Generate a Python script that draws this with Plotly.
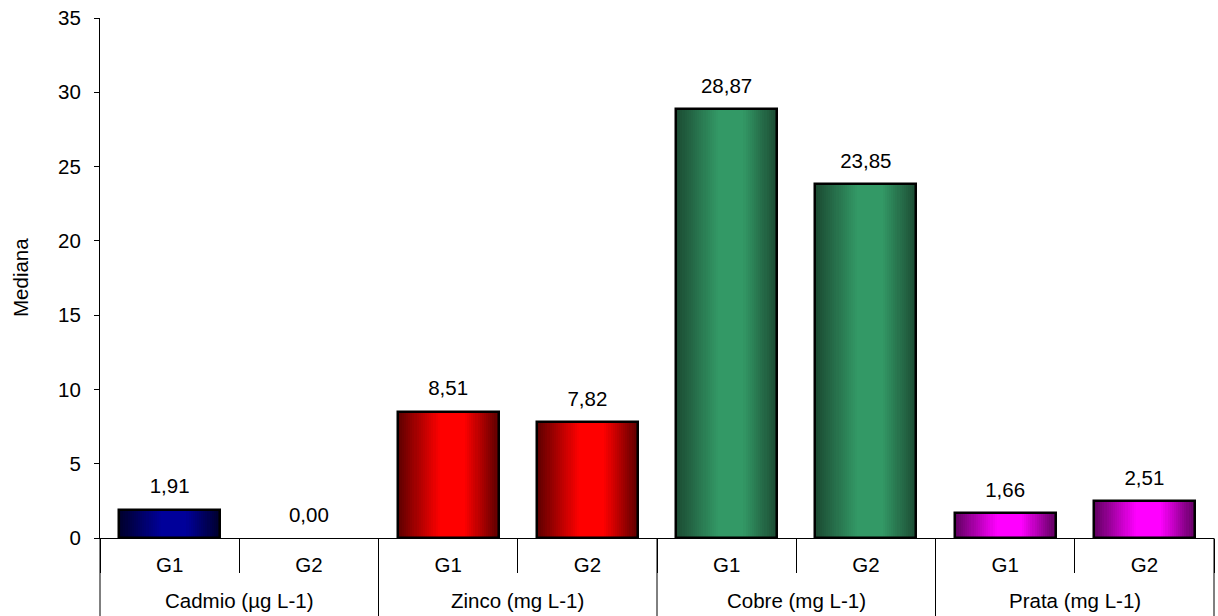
import plotly.graph_objects as go

# Medians per metal and group
metals = ["Cadmio (µg L-1)", "Zinco (mg L-1)", "Cobre (mg L-1)", "Prata (mg L-1)"]
groups = ["G1", "G2"]
g1_values = [1.91, 8.51, 28.87, 1.66]
g2_values = [0.00, 7.82, 23.85, 2.51]

# (edge colour, centre colour) for each metal's shaded bars
metal_colors = [
    ("#00002a", "#00009a"),
    ("#5c0000", "#ff0000"),
    ("#1b4a32", "#339966"),
    ("#5e005e", "#ff00ff"),
]

FONT = "Arial, Liberation Sans, sans-serif"
FS = 20.5
BAR_W = 0.725
N_SLICES = 48
W, H = 1218, 616
M_L, M_R, M_T, M_B = 100, 4, 18, 78
PLOT_H = H - M_T - M_B

n_g = len(groups)
keys = [f"{m}|{g}" for m in metals for g in groups]
inner = [g for _ in metals for g in groups]
values = [v for pair in zip(g1_values, g2_values) for v in pair]
bar_colors = [c for c in metal_colors for _ in groups]
n_cat = len(keys)
x_range = [-0.5, n_cat - 0.5]


def cat_to_paper(pos):
    # category index -> fraction of the plot width
    return (pos - x_range[0]) / (x_range[1] - x_range[0])


metal_centres = [cat_to_paper(i * n_g + (n_g - 1) / 2) for i in range(len(metals))]
metal_bounds = [cat_to_paper(i * n_g - 0.5) for i in range(len(metals) + 1)]


def hex_rgb(h):
    h = h.lstrip("#")
    return tuple(int(h[i:i + 2], 16) for i in (0, 2, 4))


def shade(t):
    # dark at both edges, bright plateau just right of centre
    if t < 0.42:
        return t / 0.42
    if t <= 0.66:
        return 1.0
    return (1.0 - t) / 0.34


def mix(c0, c1, m):
    a, b = hex_rgb(c0), hex_rgb(c1)
    return "rgb({},{},{})".format(*[round(a[k] + (b[k] - a[k]) * m) for k in range(3)])


fig = go.Figure()

# horizontal gradient: thin side-by-side slices of each bar
for i in range(N_SLICES):
    t = (i + 0.5) / N_SLICES
    m = shade(t)
    fig.add_trace(go.Bar(
        x=keys, y=values,
        width=BAR_W / N_SLICES,
        offset=-BAR_W / 2 + i * BAR_W / N_SLICES,
        marker=dict(color=[mix(e, c, m) for e, c in bar_colors], line=dict(width=0)),
        hoverinfo="skip", showlegend=False,
    ))

# black outline around each bar
fig.add_trace(go.Bar(
    x=keys, y=values,
    width=BAR_W, offset=-BAR_W / 2,
    marker=dict(color="rgba(0,0,0,0)",
                line=dict(color="black", width=[0 if v == 0 else 2.5 for v in values])),
    showlegend=False,
))

# value labels above the bars
fig.add_trace(go.Scatter(
    x=keys, y=values,
    mode="markers+text",
    marker=dict(size=16, opacity=0),
    texttemplate="%{y:.2f}", textposition="top center",
    textfont=dict(family=FONT, size=FS, color="black"),
    cliponaxis=False, hoverinfo="skip", showlegend=False,
))

# second label row: metal names under each pair
annotations = [dict(
    text="Mediana", xref="paper", yref="paper",
    x=(20 - M_L) / (W - M_L - M_R), y=0.5, xanchor="center", yanchor="middle",
    textangle=-90, showarrow=False, font=dict(family=FONT, size=FS, color="black"),
)]
for name, xc in zip(metals, metal_centres):
    annotations.append(dict(
        text=name, xref="paper", yref="paper", x=xc, y=-62 / PLOT_H,
        xanchor="center", yanchor="middle", showarrow=False,
        font=dict(family=FONT, size=FS, color="black"),
    ))

# long dividers between metals, running through both label rows
shapes = [dict(
    type="line", xref="paper", yref="paper",
    x0=xb, x1=xb, y0=0, y1=-M_B / PLOT_H,
    line=dict(color="black", width=1),
) for xb in metal_bounds]

fig.update_layout(
    width=W, height=H, autosize=False,
    margin=dict(l=M_L, r=M_R, t=M_T, b=M_B),
    paper_bgcolor="white", plot_bgcolor="white",
    barmode="overlay", bargap=0,
    separators=", ",
    font=dict(family=FONT, size=FS, color="black"),
    annotations=annotations,
    shapes=shapes,
)

fig.update_xaxes(
    type="category", range=x_range,
    tickmode="array", tickvals=keys, ticktext=inner,
    showline=True, linecolor="black", linewidth=1,
    ticks="outside", tickson="boundaries", ticklen=34, tickcolor="black", tickwidth=1,
    ticklabelstandoff=8,
    showgrid=False, zeroline=False,
    tickfont=dict(family=FONT, size=FS, color="black"),
)
fig.update_yaxes(
    range=[0, 35], dtick=5, tick0=0,
    showline=True, linecolor="black", linewidth=1,
    ticks="outside", ticklen=5, tickcolor="black", tickwidth=1,
    ticklabelstandoff=9,
    showgrid=False, zeroline=False,
    tickfont=dict(family=FONT, size=FS, color="black"),
)

fig.write_html("out.html")
